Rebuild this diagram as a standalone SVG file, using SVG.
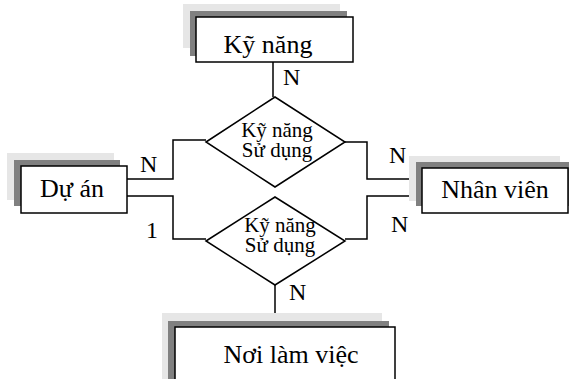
<svg xmlns="http://www.w3.org/2000/svg" width="569" height="379" viewBox="0 0 569 379">
<style>
.sh1{fill:#e6e6e6;stroke:none}
.sh2{fill:#808080;stroke:none}
.box{fill:#fff;stroke:#000;stroke-width:1.5}
.dia{fill:#fff;stroke:#000;stroke-width:1.5}
.ln{fill:none;stroke:#000;stroke-width:1.5}
text{font-family:"Liberation Serif","Times New Roman",serif;fill:#000}
.et{font-size:26px;text-anchor:middle}
.rt{font-size:21px;text-anchor:middle}
.lb{font-size:24px}
</style>
<rect width="569" height="379" fill="#fff"/>
<g id="connectors">
<path class="ln" d="M273,62 V97"/>
<path class="ln" d="M127,179 H173 V140 H206"/>
<path class="ln" d="M127,196 H173 V239 H206"/>
<path class="ln" d="M345,142 H367 V179 H412"/>
<path class="ln" d="M412,196 H367 V239 H345"/>
<path class="ln" d="M275,285 V313"/>
<text class="lb" x="283" y="85">N</text>
<text class="lb" x="140" y="172">N</text>
<text class="lb" x="146" y="238">1</text>
<text class="lb" x="389" y="163">N</text>
<text class="lb" x="391" y="232">N</text>
<text class="lb" x="289" y="300">N</text>
</g>
<g id="kynang">
<rect class="sh1" x="183" y="4" width="157" height="44"/>
<rect class="sh2" x="190" y="11" width="157" height="45"/>
<rect class="box" x="196" y="17" width="157" height="45"/>
<text class="et" x="268" y="53">Kỹ năng</text>
</g>
<g id="duan">
<rect class="sh1" x="7" y="153" width="107" height="47"/>
<rect class="sh2" x="14" y="160" width="106" height="46"/>
<rect class="box" x="21" y="166" width="106" height="47"/>
<text class="et" x="72" y="197">Dự án</text>
</g>
<g id="nhanvien">
<rect class="sh1" x="409" y="156" width="151" height="45"/>
<rect class="sh2" x="416" y="162" width="153" height="44"/>
<rect class="box" x="422" y="168" width="146" height="45"/>
<text class="et" x="495" y="198">Nhân viên</text>
</g>
<g id="noilamviec">
<rect class="sh1" x="162" y="313" width="220" height="70"/>
<rect class="sh2" x="168" y="321" width="221" height="70"/>
<rect class="box" x="175" y="327" width="220" height="70"/>
<text class="et" x="291" y="363">Nơi làm việc</text>
</g>
<g id="rel1">
<polygon class="dia" points="206,142 275,97 345,142 275,187"/>
<text class="rt"><tspan x="277" y="137">Kỹ năng</tspan><tspan x="277" y="157">Sử dụng</tspan></text>
</g>
<g id="rel2">
<polygon class="dia" points="206,241 275,197 345,241 275,285"/>
<text class="rt"><tspan x="280" y="232">Kỹ năng</tspan><tspan x="280" y="252">Sử dụng</tspan></text>
</g>
</svg>
